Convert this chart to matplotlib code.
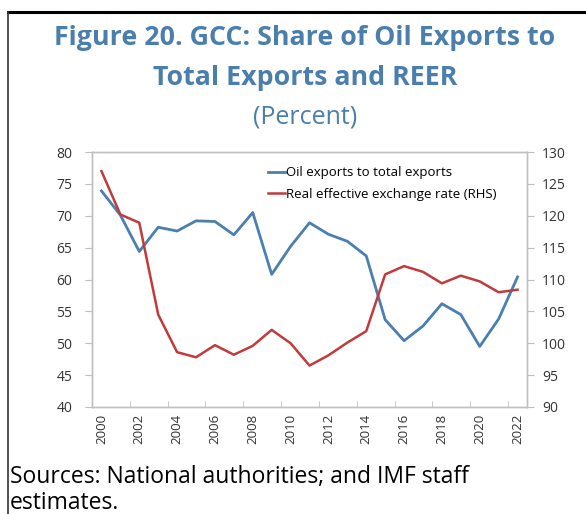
import matplotlib
matplotlib.use("Agg")
import matplotlib.pyplot as plt
from matplotlib.lines import Line2D

years = list(range(2000, 2023))
oil_share = [73.9, 70.1, 64.4, 68.2, 67.6, 69.2, 69.1, 67.0, 70.5, 60.8, 65.2, 68.9,
             67.1, 66.0, 63.7, 53.7, 50.4, 52.7, 56.2, 54.5, 49.5, 53.8, 60.4]
reer = [127.0, 120.2, 118.9, 104.5, 98.6, 97.8, 99.7, 98.2, 99.6, 102.1, 100.0, 96.5,
        98.1, 100.1, 101.9, 110.8, 112.1, 111.2, 109.4, 110.6, 109.7, 108.0, 108.4]
left_ticks = [40, 45, 50, 55, 60, 65, 70, 75, 80]
right_ticks = [90, 95, 100, 105, 110, 115, 120, 125, 130]
tick_years = [str(y) for y in years[::2]]

plt.rcParams['font.family'] = ['Open Sans', 'DejaVu Sans']

W, H = 586, 514
fig = plt.figure(figsize=(W / 100, H / 100), dpi=100)

title_col = '#4a7eac'
blue = '#4a7fb0'
red = '#c23b3b'
frame_col = '#c0c0c0'
tick_col = '#333333'

# figure border lines (top and left)
fig.add_artist(Line2D([8 / W, 1], [1 - 12 / H, 1 - 12 / H], color='black', lw=2.2,
                      transform=fig.transFigure))
fig.add_artist(Line2D([8 / W, 8 / W], [0, 1 - 12 / H], color='#333333', lw=1.2,
                      transform=fig.transFigure))

fig.text(305 / W, 1 - 38 / H, 'Figure 20. GCC: Share of Oil Exports to', ha='center',
         va='center', fontsize=19.3, fontweight='bold', color=title_col)
fig.text(305 / W, 1 - 78 / H, 'Total Exports and REER', ha='center', va='center',
         fontsize=19.3, fontweight='bold', color=title_col)
fig.text(305 / W, 1 - 117 / H, '(Percent)', ha='center', va='center', fontsize=18,
         color=title_col)

left, right, top, bottom = 92, 527, 152, 407
ax = fig.add_axes([left / W, 1 - bottom / H, (right - left) / W, (bottom - top) / H])
x = list(range(len(years)))
ax.plot(x, oil_share, color=blue, lw=2.0, label='Oil exports to total exports')
ax.set_ylim(40, 80)
ax.set_xlim(-0.5, len(years) - 0.5)
ax.set_yticks(left_ticks)
ax.set_yticklabels([str(v) for v in left_ticks])

ax2 = ax.twinx()
ax2.plot(x, reer, color=red, lw=1.8, label='Real effective exchange rate (RHS)')
ax2.set_ylim(90, 130)
ax2.set_yticks(right_ticks)
ax2.set_yticklabels([str(v) for v in right_ticks])

# x ticks: labels at every other category, tick marks at boundaries
ax.set_xticks(x[::2])
ax.set_xticklabels(tick_years, rotation=90, fontsize=9.5, color=tick_col)
ax.tick_params(axis='x', length=0, pad=5)
ax.set_xticks([i + 0.5 for i in range(1, len(years) - 1, 2)], minor=True)
ax.tick_params(axis='x', which='minor', length=4, color=frame_col, direction='in')

for a in (ax, ax2):
    for s in a.spines.values():
        s.set_color(frame_col)
        s.set_linewidth(1.0)
ax.tick_params(axis='y', length=5, color=frame_col, labelsize=10, labelcolor=tick_col, pad=9)
ax2.tick_params(axis='y', length=5, color=frame_col, labelsize=10, labelcolor=tick_col, pad=6)

h1, l1 = ax.get_legend_handles_labels()
h2, l2 = ax2.get_legend_handles_labels()
ax2.legend(h1 + h2, l1 + l2, loc='upper left', bbox_to_anchor=((257 - left) / (right - left), 0.985),
           frameon=False, fontsize=9.5, handlelength=1.3, handletextpad=0.1,
           labelspacing=0.65, borderaxespad=0.4)

fig.text(10 / W, 1 - 477 / H, 'Sources: National authorities; and IMF staff', ha='left',
         va='center', fontsize=16.5, color='black')
fig.text(10 / W, 1 - 503 / H, 'estimates.', ha='left', va='center', fontsize=16.5, color='black')

fig.savefig('out.png', dpi=100)
